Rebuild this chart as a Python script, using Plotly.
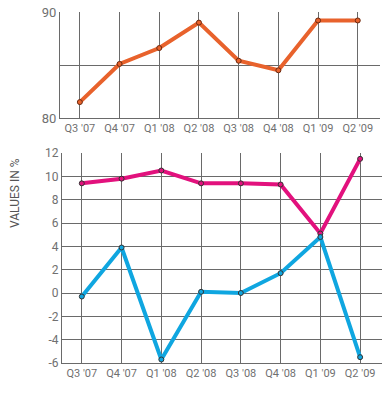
import plotly.graph_objects as go

quarters = ["Q3 '07", "Q4 '07", "Q1 '08", "Q2 '08", "Q3 '08", "Q4 '08", "Q1 '09", "Q2 '09"]
top_values = [81.5, 85.1, 86.6, 89.0, 85.4, 84.5, 89.2, 89.2]
magenta_values = [9.4, 9.8, 10.5, 9.4, 9.4, 9.3, 5.1, 11.5]
cyan_values = [-0.3, 3.9, -5.7, 0.1, 0.0, 1.7, 4.8, -5.5]
top_ticks = [80, 85, 90]
top_ticktext = ["80", "", "90"]
bottom_ticks = [-6, -4, -2, 0, 2, 4, 6, 8, 10, 12]
bottom_ticktext = ["-6", "-4", "-2", "0", "2", "4", "6", "8", "10", "12"]

ORANGE = "#E8622C"
MAGENTA = "#E2117D"
CYAN = "#0FA6E0"
GRID = "#6a6a6a"
TICK = "#707070"
FONT = "Liberation Sans Narrow, Roboto, sans-serif"

W, H = 382, 394
L, T, B = 60, 12, 31

xi = list(range(len(quarters)))

fig = go.Figure()

def add_line(x, y, color, xa, ya):
    fig.add_trace(go.Scatter(
        x=x, y=y, mode="lines+markers", xaxis=xa, yaxis=ya,
        line=dict(color=color, width=4),
        marker=dict(size=5, color=color, line=dict(color="#6b2a10" if color == ORANGE else "#333", width=1)),
        showlegend=False, hoverinfo="skip", cliponaxis=False))

add_line(xi, top_values, ORANGE, "x", "y")
add_line(xi, magenta_values, MAGENTA, "x2", "y2")
add_line(xi, cyan_values, CYAN, "x2", "y2")

def ax(size=11, **kw):
    d = dict(
        showgrid=True, gridcolor=GRID, gridwidth=1,
        zeroline=False, showline=True, linecolor=GRID, linewidth=1,
        tickfont=dict(family=FONT, size=size, color=TICK),
        ticks="", fixedrange=True, automargin=False,
    )
    d.update(kw)
    return d

plot_w = W - L
plot_h = H - T - B
top_dom = 1 - 106 / plot_h
bot_dom = 210 / plot_h

fig.update_layout(
    width=W, height=H,
    margin=dict(l=L, r=0, t=T, b=B, autoexpand=False),
    paper_bgcolor="white", plot_bgcolor="white",
    font=dict(family=FONT, color=TICK),
    hovermode=False,
    xaxis=ax(11, domain=[0, 0.995], range=[-0.5, 7.57], tickmode="array", tickvals=xi,
             ticktext=quarters, anchor="y"),
    yaxis=ax(13, domain=[top_dom, 1.0], range=[80, 90], tickmode="array", tickvals=top_ticks,
             ticktext=top_ticktext, anchor="x"),
    xaxis2=ax(11, domain=[0.006, 1.0], range=[-0.5, 7.55], tickmode="array", tickvals=xi,
              ticktext=quarters, anchor="y2"),
    yaxis2=ax(12, domain=[0, bot_dom], range=[-6, 12], tickmode="array", tickvals=bottom_ticks,
              ticktext=bottom_ticktext, anchor="x2"),
)
fig.add_annotation(text="VALUES IN %", textangle=-90, xref="paper", yref="paper",
                   x=(15 - L) / plot_w, y=(H - B - 193) / plot_h,
                   xanchor="center", yanchor="middle", showarrow=False,
                   font=dict(family=FONT, size=12, color="#555"))

fig.write_html("out.html", config={"displayModeBar": False},
               post_script="document.body.style.margin='0';")
